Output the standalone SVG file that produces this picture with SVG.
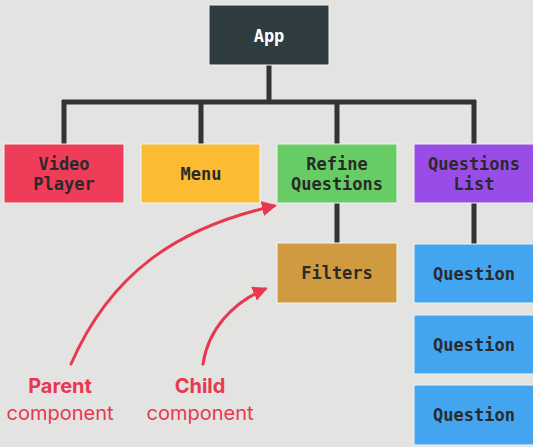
<svg xmlns="http://www.w3.org/2000/svg" width="533" height="447" viewBox="0 0 533 447">
  <style>
    .box { stroke: #f4f4f2; stroke-width: 1; }
    .lbl { font-family: "DejaVu Sans Mono", "Liberation Mono", monospace; font-size: 17px; font-weight: bold; fill: #2a2a2a; text-anchor: middle; dominant-baseline: central; }
    .tree { stroke: #333; stroke-width: 5; fill: none; }
    .note { stroke: #e8384f; stroke-width: 3; fill: none; stroke-linecap: round; }
    .cap { font-family: Inter, "Noto Sans", sans-serif; font-size: 20px; fill: #e8384f; text-anchor: middle; }
  </style>
  <defs>
    <marker id="head" viewBox="0 0 10 10" refX="8" refY="5" markerWidth="5" markerHeight="5" orient="auto" markerUnits="strokeWidth">
      <path d="M0,0 L10,5 L0,10 z" fill="#e8384f"/>
    </marker>
  </defs>
  <rect width="533" height="447" fill="#e3e3e1"/>

  <g id="connectors">
    <path class="tree" d="M269,65 V102 M62,102 H476 M64,100 V144 M201,100 V144 M337,100 V144 M474,100 V144 M337,203 V243 M474,203 V244"/>
    <path class="note" d="M71,364 C110,275 175,228 274,206" marker-end="url(#head)"/>
    <path class="note" d="M203,364 C208,330 232,303 265,289" marker-end="url(#head)"/>
  </g>

  <g id="app">
    <rect class="box" x="209" y="5" width="120" height="60" fill="#2f3c40"/>
    <text class="lbl" x="269" y="36" style="fill:#ffffff">App</text>
  </g>
  <g id="video-player">
    <rect class="box" x="4" y="144" width="120" height="59" fill="#ef3d59"/>
    <text class="lbl" x="64" y="164">Video</text>
    <text class="lbl" x="64" y="184">Player</text>
  </g>
  <g id="menu">
    <rect class="box" x="141" y="144" width="119" height="59" fill="#fbbc33"/>
    <text class="lbl" x="201" y="174">Menu</text>
  </g>
  <g id="refine-questions">
    <rect class="box" x="277" y="144" width="120" height="59" fill="#66cc63"/>
    <text class="lbl" x="337" y="164">Refine</text>
    <text class="lbl" x="337" y="184">Questions</text>
  </g>
  <g id="questions-list">
    <rect class="box" x="414" y="144" width="120" height="59" fill="#9a4de6"/>
    <text class="lbl" x="474" y="164">Questions</text>
    <text class="lbl" x="474" y="184">List</text>
  </g>
  <g id="filters">
    <rect class="box" x="277" y="243" width="120" height="60" fill="#d09a40"/>
    <text class="lbl" x="337" y="273">Filters</text>
  </g>
  <g id="question-1">
    <rect class="box" x="414" y="244" width="120" height="59" fill="#43a5f0"/>
    <text class="lbl" x="474" y="274">Question</text>
  </g>
  <g id="question-2">
    <rect class="box" x="414" y="315" width="120" height="59" fill="#43a5f0"/>
    <text class="lbl" x="474" y="345">Question</text>
  </g>
  <g id="question-3">
    <rect class="box" x="414" y="385" width="120" height="60" fill="#43a5f0"/>
    <text class="lbl" x="474" y="415">Question</text>
  </g>

  <g id="parent-caption">
    <text class="cap" x="60" y="393" font-weight="bold">Parent</text>
    <text class="cap" x="60" y="420">component</text>
  </g>
  <g id="child-caption">
    <text class="cap" x="200" y="393" font-weight="bold">Child</text>
    <text class="cap" x="200" y="420">component</text>
  </g>
</svg>
